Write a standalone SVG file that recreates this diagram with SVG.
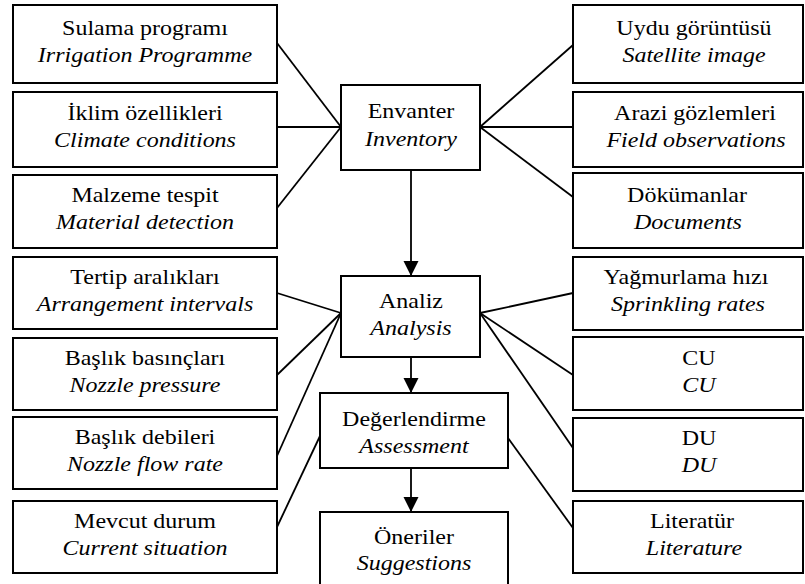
<svg xmlns="http://www.w3.org/2000/svg" width="805" height="584" viewBox="0 0 805 584">
<style>
.b{fill:#fff;stroke:#000;stroke-width:2}
.t{font-family:'Liberation Serif','Times New Roman',serif;font-size:20px;text-anchor:middle;fill:#000}
.i{font-style:italic}
.c line{stroke:#000;stroke-width:1.8}
.a{stroke:#000;stroke-width:2;marker-end:url(#ah)}
</style>
<defs>
<marker id="ah" markerUnits="userSpaceOnUse" markerWidth="16" markerHeight="16" viewBox="0 0 16 16" refX="15" refY="8" orient="auto">
<path d="M0,0.5 L15,8 L0,15.5 Z" fill="#000"/>
</marker>
</defs>
<rect width="805" height="584" fill="#fff"/>
<g id="connectors" class="c">
<line x1="341" y1="127" x2="277" y2="43"/>
<line x1="341" y1="127" x2="277" y2="127"/>
<line x1="341" y1="127" x2="277" y2="208"/>
<line x1="480" y1="127" x2="573" y2="45"/>
<line x1="480" y1="127" x2="573" y2="127"/>
<line x1="480" y1="127" x2="573" y2="197"/>
<line x1="341" y1="313" x2="277" y2="293"/>
<line x1="341" y1="313" x2="277" y2="375"/>
<line x1="341" y1="313" x2="277" y2="456"/>
<line x1="480" y1="313" x2="573" y2="293"/>
<line x1="480" y1="313" x2="573" y2="375"/>
<line x1="480" y1="313" x2="573" y2="448"/>
<line x1="320" y1="436" x2="277" y2="527"/>
<line x1="508" y1="438" x2="573" y2="528"/>
<line class="a" x1="411" y1="170" x2="411" y2="276"/>
<line class="a" x1="411" y1="357" x2="411" y2="393"/>
<line class="a" x1="411" y1="468" x2="411" y2="512"/>
</g>
<g id="n-sulama"><rect class="b" x="13" y="5" width="264" height="78"/>
<text class="t" transform="matrix(1.2 0 0 1 145 35)">Sulama programı</text>
<text class="t i" transform="matrix(1.2 0 0 1 145 62)">Irrigation Programme</text></g>
<g id="n-iklim"><rect class="b" x="13" y="92" width="264" height="75"/>
<text class="t" transform="matrix(1.2 0 0 1 145 120)">İklim özellikleri</text>
<text class="t i" transform="matrix(1.2 0 0 1 145 147)">Climate conditions</text></g>
<g id="n-malzeme"><rect class="b" x="13" y="175" width="264" height="73"/>
<text class="t" transform="matrix(1.2 0 0 1 145 202)">Malzeme tespit</text>
<text class="t i" transform="matrix(1.2 0 0 1 145 229)">Material detection</text></g>
<g id="n-tertip"><rect class="b" x="13" y="257" width="264" height="72"/>
<text class="t" transform="matrix(1.2 0 0 1 145 284)">Tertip aralıkları</text>
<text class="t i" transform="matrix(1.2 0 0 1 145 311)">Arrangement intervals</text></g>
<g id="n-basinc"><rect class="b" x="13" y="338" width="264" height="72"/>
<text class="t" transform="matrix(1.2 0 0 1 145 365)">Başlık basınçları</text>
<text class="t i" transform="matrix(1.2 0 0 1 145 392)">Nozzle pressure</text></g>
<g id="n-debi"><rect class="b" x="13" y="417" width="264" height="72"/>
<text class="t" transform="matrix(1.2 0 0 1 145 444)">Başlık debileri</text>
<text class="t i" transform="matrix(1.2 0 0 1 145 471)">Nozzle flow rate</text></g>
<g id="n-mevcut"><rect class="b" x="13" y="501" width="264" height="72"/>
<text class="t" transform="matrix(1.2 0 0 1 145 528)">Mevcut durum</text>
<text class="t i" transform="matrix(1.2 0 0 1 145 555)">Current situation</text></g>
<g id="n-uydu"><rect class="b" x="573" y="5" width="230" height="78"/>
<text class="t" transform="matrix(1.2 0 0 1 694 35)">Uydu görüntüsü</text>
<text class="t i" transform="matrix(1.2 0 0 1 694 62)">Satellite image</text></g>
<g id="n-arazi"><rect class="b" x="573" y="92" width="230" height="75"/>
<text class="t" transform="matrix(1.2 0 0 1 695 120)">Arazi gözlemleri</text>
<text class="t i" transform="matrix(1.2 0 0 1 696 147)">Field observations</text></g>
<g id="n-dokuman"><rect class="b" x="573" y="173" width="230" height="75"/>
<text class="t" transform="matrix(1.2 0 0 1 687 202)">Dökümanlar</text>
<text class="t i" transform="matrix(1.2 0 0 1 688 229)">Documents</text></g>
<g id="n-yagmur"><rect class="b" x="573" y="257" width="230" height="73"/>
<text class="t" transform="matrix(1.2 0 0 1 686 284)">Yağmurlama hızı</text>
<text class="t i" transform="matrix(1.2 0 0 1 688 311)">Sprinkling rates</text></g>
<g id="n-cu"><rect class="b" x="573" y="337" width="230" height="73"/>
<text class="t" transform="matrix(1.2 0 0 1 699 365)">CU</text>
<text class="t i" transform="matrix(1.2 0 0 1 699 392)">CU</text></g>
<g id="n-du"><rect class="b" x="573" y="418" width="230" height="73"/>
<text class="t" transform="matrix(1.2 0 0 1 699 445)">DU</text>
<text class="t i" transform="matrix(1.2 0 0 1 699 472)">DU</text></g>
<g id="n-literatur"><rect class="b" x="573" y="501" width="230" height="72"/>
<text class="t" transform="matrix(1.2 0 0 1 692 528)">Literatür</text>
<text class="t i" transform="matrix(1.2 0 0 1 694 555)">Literature</text></g>
<g id="n-envanter"><rect class="b" x="341" y="85" width="139" height="85"/>
<text class="t" transform="matrix(1.2 0 0 1 411 118)">Envanter</text>
<text class="t i" transform="matrix(1.2 0 0 1 411 146)">Inventory</text></g>
<g id="n-analiz"><rect class="b" x="341" y="276" width="139" height="81"/>
<text class="t" transform="matrix(1.2 0 0 1 411 308)">Analiz</text>
<text class="t i" transform="matrix(1.2 0 0 1 411 335)">Analysis</text></g>
<g id="n-deger"><rect class="b" x="320" y="393" width="188" height="75"/>
<text class="t" transform="matrix(1.2 0 0 1 414 426)">Değerlendirme</text>
<text class="t i" transform="matrix(1.2 0 0 1 414 453)">Assessment</text></g>
<g id="n-oneri"><rect class="b" x="320" y="512" width="188" height="80"/>
<text class="t" transform="matrix(1.2 0 0 1 414 544)">Öneriler</text>
<text class="t i" transform="matrix(1.2 0 0 1 414 570)">Suggestions</text></g>
</svg>
